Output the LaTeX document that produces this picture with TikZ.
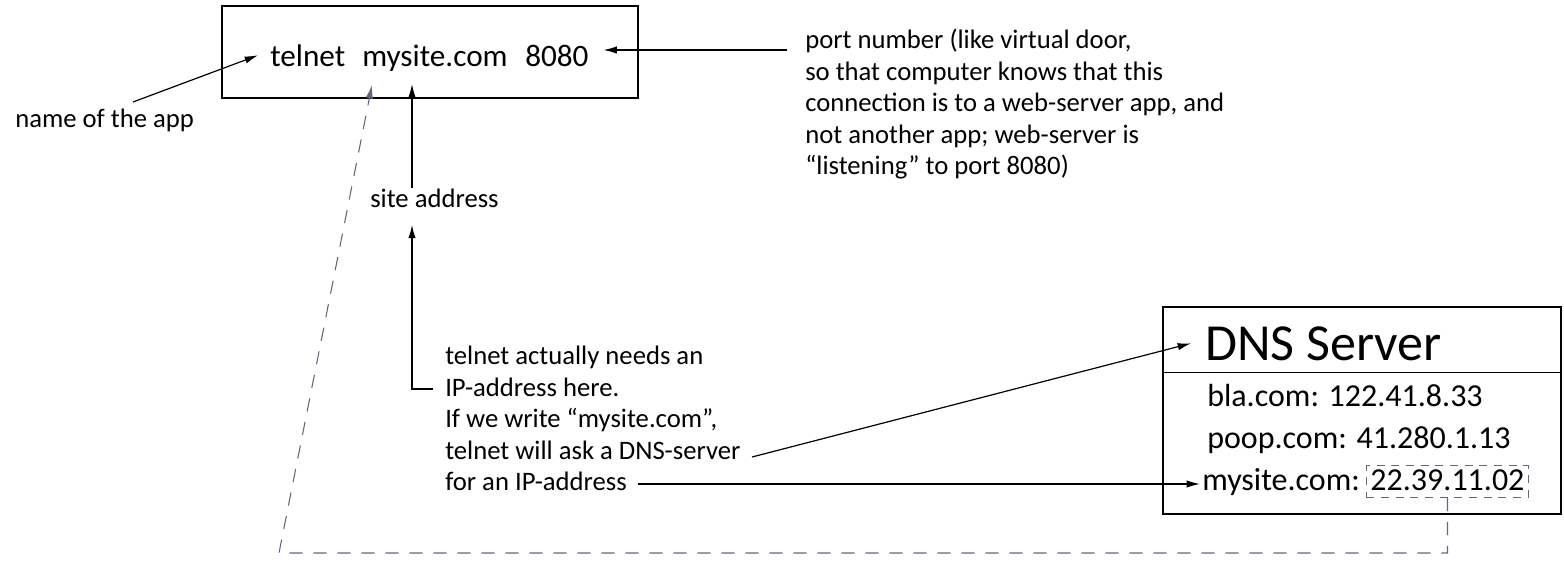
\documentclass[tikz,border=0pt]{standalone}
\usepackage{fontspec}
\setmainfont{Carlito}
\usetikzlibrary{arrows.meta}
\definecolor{dashgray}{RGB}{98,104,122}

\begin{document}
\begin{tikzpicture}[x=0.75pt,y=-0.75pt,
	word/.style={inner sep=0pt, anchor=base west, font=\fontsize{23.4}{28}\selectfont},
	note/.style={align=left, inner sep=0pt, font=\fontsize{20}{23.6}\selectfont},
	entry/.style={inner sep=0pt, anchor=base west, font=\fontsize{24}{29}\selectfont},
	pointer/.style={-{Latex[length=10pt,width=5.5pt]}, line width=0.9pt},
	lookup/.style={draw=dashgray, line width=0.8pt, dash pattern=on 10pt off 8pt}]
	\useasboundingbox (0,0) rectangle (1564,565);

	% command line
	\node[draw, line width=0.9pt, minimum width=312pt, minimum height=69pt] (cmdbox) at (430,52) {};
	\node[word] (app) at (270,66) {telnet};
	\node[word] (site) at (362,66) {mysite.com};
	\node[word] (port) at (525,66) {8080};

	% labels
	\node[note, anchor=base west] (applabel) at (15,127) {name of the app};
	\node[note, anchor=base west] (sitelabel) at (370,207) {site address};
	\node[note, anchor=north west] (portnote) at (805,29) {port number (like virtual door,\\
		so that computer knows that this\\
		connection is to a web-server app, and\\
		not another app; web-server is\\
		“listening” to port 8080)};
	\node[note, anchor=north west] (ipnote) at (445,346) {telnet actually needs an\\
		IP-address here.\\
		If we write “mysite.com”,\\
		telnet will ask a DNS-server\\
		for an IP-address};

	% dns server
	\node[draw, line width=0.9pt, minimum width=298.5pt, minimum height=155.25pt] (dnsbox) at (1362,410.5) {};
	\draw[line width=0.9pt] ([yshift=-49.5pt]dnsbox.north west) -- ([yshift=-49.5pt]dnsbox.north east);
	\node[inner sep=0pt, anchor=base west, font=\fontsize{39}{46}\selectfont] (dnstitle) at (1205,360) {DNS Server};
	\node[entry] (bla) at (1207,406) {bla.com: 122.41.8.33};
	\node[entry] (poop) at (1207,448) {poop.com: 41.280.1.13};
	\node[entry] (mysite) at (1202,490) {mysite.com:};
	\node[entry, draw=dashgray, line width=0.7pt, dash pattern=on 6pt off 5pt,
		inner xsep=3pt, inner ysep=2.5pt, text depth=3pt] (ipval) at (1366,490) {22.39.11.02};

	% connectors
	\coordinate (appfoot) at (133,102);
	\coordinate (porttail) at (787,50);
	\coordinate (siteup) at (412,84);
	\coordinate (elbow) at (433,389);
	\coordinate (dnstail) at (752,457);
	\coordinate (iptail) at (638,484);
	\coordinate (lookupcorner) at (279,553);
	\coordinate (lookuptip) at (372,85);

	\draw[pointer] (appfoot) -- ([xshift=-9pt]app.west);
	\draw[pointer] (porttail) -- ([xshift=11pt]port.east |- porttail);
	\draw[pointer] (siteup |- sitelabel.north) -- (siteup);
	\draw[pointer, shorten >=13pt] (elbow) -| (siteup |- sitelabel.south);
	\draw[pointer] (dnstail) -- ([xshift=-10.5pt]dnstitle.west);
	\draw[pointer] (iptail) -- ([xshift=-1.5pt]iptail -| mysite.west);
	\draw[lookup, -{Latex[length=10pt,width=5.5pt]}] (ipval.south) |- (lookupcorner) -- (lookuptip);
\end{tikzpicture}
\end{document}
